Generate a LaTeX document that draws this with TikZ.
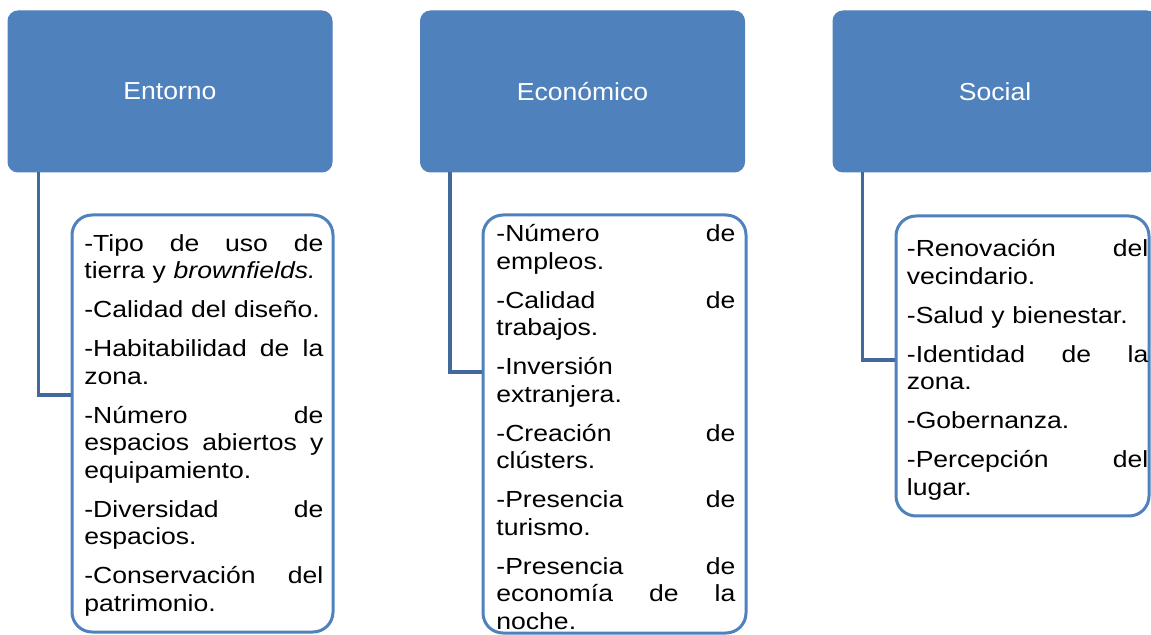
\documentclass[tikz,border=0pt]{standalone}
\usepackage{fontspec}
\setmainfont{Liberation Sans}[FakeStretch=1.14]
\newfontfamily\hdrfont{Liberation Sans}[FakeStretch=1.08]
\definecolor{hdrblue}{HTML}{4F81BD}
\definecolor{connblue}{HTML}{41699B}
\newcommand\jl[1]{\makebox[\hsize][s]{#1}}
\tikzset{
  hdr/.style={draw=hdrblue, fill=hdrblue, rounded corners=5pt, line width=0.5pt,
    minimum width=162pt, minimum height=80.5pt, inner sep=0pt, text=white,
    font=\hdrfont\fontsize{12.3pt}{14pt}\selectfont},
  detail/.style={draw=hdrblue, fill=white, rounded corners=10pt, line width=1.5pt, inner sep=0pt},
  itemtext/.style={anchor=base west, inner sep=0pt, align=left,
    font=\fontsize{11.65pt}{13.75pt}\selectfont},
  conn/.style={draw=connblue, line width=1.65pt}
}
\begin{document}
\begin{tikzpicture}[x=0.5pt, y=-0.5pt]
\useasboundingbox (0,0) rectangle (1151,635);
% headers
\node[hdr] (h1) at (170,91.5) {Entorno};
\node[hdr] (h2) at (582.5,91.5) {Económico};
\node[hdr] (h3) at (995,91.5) {Social};
% detail boxes
\node[detail, minimum width=130.5pt, minimum height=208.5pt] (d1) at (202.5,423.5) {};
\node[detail, minimum width=131.5pt, minimum height=209pt] (d2) at (614.5,424) {};
\node[detail, minimum width=126.5pt, minimum height=150pt] (d3) at (1022.5,366) {};
% connectors
\draw[conn] ([xshift=15.5pt]h1.south west) |- ([yshift=14.25pt]d1.west);
\draw[conn] ([xshift=15pt]h2.south west) |- ([yshift=26pt]d2.west);
\draw[conn] ([xshift=15pt]h3.south west) |- ([yshift=3pt]d3.west);
% texts
\node[itemtext, text width=119.5pt] (t1) at (84,251.5) {%
\jl{-Tipo\hfill de\hfill uso\hfill de}\\
tierra y \textit{brownfields.}\\[5.75pt]
-Calidad del diseño.\\[5.75pt]
\jl{-Habitabilidad\hfill de\hfill la}\\
zona.\\[5.75pt]
\jl{-Número\hfill de}\\
\jl{espacios\hfill abiertos\hfill y}\\
equipamiento.\\[5.75pt]
\jl{-Diversidad\hfill de}\\
espacios.\\[5.75pt]
\jl{-Conservación\hfill del}\\
patrimonio.};
\node[itemtext, text width=119.5pt] (t2) at (496,241.7) {%
\jl{-Número\hfill de}\\
empleos.\\[5.75pt]
\jl{-Calidad\hfill de}\\
trabajos.\\[5.75pt]
-Inversión\\
extranjera.\\[5.75pt]
\jl{-Creación\hfill de}\\
clústers.\\[5.75pt]
\jl{-Presencia\hfill de}\\
turismo.\\[5.75pt]
\jl{-Presencia\hfill de}\\
\jl{economía\hfill de\hfill la}\\
noche.};
\node[itemtext, text width=120.75pt] (t3) at (906.5,256.7) {%
\jl{-Renovación\hfill del}\\
vecindario.\\[5.75pt]
-Salud y bienestar.\\[5.75pt]
\jl{-Identidad\hfill de\hfill la}\\
zona.\\[5.75pt]
-Gobernanza.\\[5.75pt]
\jl{-Percepción\hfill del}\\
lugar.};
\end{tikzpicture}
\end{document}
